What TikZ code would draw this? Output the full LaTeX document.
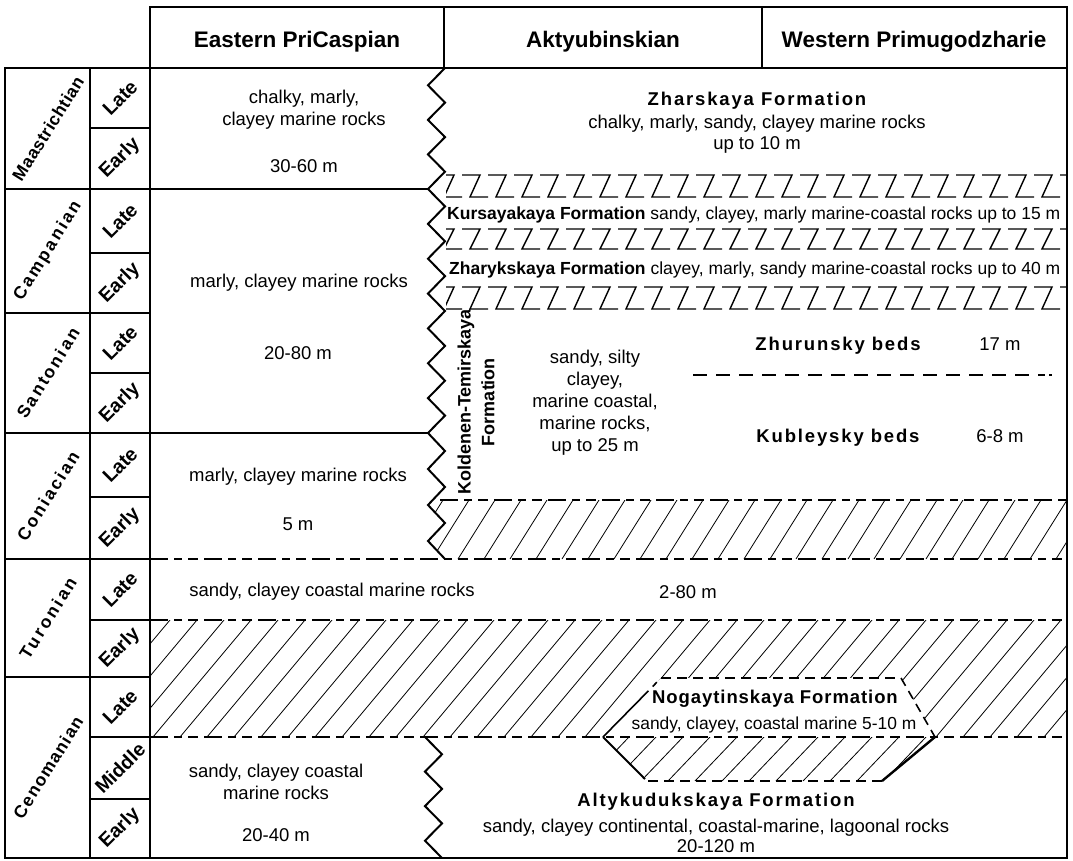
\documentclass[tikz,border=0pt]{standalone}
\usepackage{graphicx}
\usepackage{fontspec}
\setmainfont{Liberation Sans}
\newcommand\lsp[2]{{\addfontfeature{LetterSpace=#1}#2}}
\newcommand\stagelab[2]{\rotatebox{58}{\fontsize{17.5}{20}\selectfont\bfseries\lsp{#1}{#2}}}
\newcommand\sublab[1]{\rotatebox{45}{\fontsize{19.5}{22}\selectfont\bfseries #1}}
\begin{document}
\begin{tikzpicture}[x=1pt,y=-1pt,
  frame/.style={line width=2pt},
  dline/.style={line width=1.8pt, dash pattern=on 18pt off 6pt on 8pt off 6pt on 10pt off 6pt},
  zline/.style={line width=1.4pt},
  hatchline/.style={line width=0.8pt},
  zz/.style={line width=2pt, line join=miter, miter limit=10},
  txt/.style={font=\fontsize{18.5}{22}\selectfont, inner sep=0pt, anchor=base},
  btxt/.style={font=\fontsize{18.5}{22}\selectfont\bfseries, inner sep=0pt, anchor=base},
  hdr/.style={font=\fontsize{22.5}{26}\selectfont\bfseries, inner sep=0pt, anchor=base},
  lab/.style={inner sep=0pt},
  band/.style={font=\fontsize{17.5}{20}\selectfont, inner sep=0pt, anchor=base west},
  vlbl/.style={font=\fontsize{18}{20}\selectfont\bfseries, inner sep=0pt}
]
\useasboundingbox (0,0) rectangle (1073,860);
\fill[white] (0,0) rectangle (1073,860);

% ---------- hatched areas ----------
\begin{scope}
  \clip (432,500) -- (428,505) -- (445,523) -- (428,541) -- (445,559) -- (1067,559) -- (1067,500) -- cycle;
  \foreach \x in {380,406,...,1080} \draw[hatchline] (\x,559) -- (\x+37,500);
\end{scope}
\begin{scope}
  \clip (150,620) rectangle (1067,737);
  \foreach \x in {45,72,...,1100} \draw[hatchline] (\x,737) -- (\x+98,620);
\end{scope}
\fill[white] (661,678) -- (901,678) -- (935,737) -- (603,737) -- cycle;
\begin{scope}
  \clip (603,737) -- (645,781) -- (882,781) -- (935,737) -- cycle;
  \foreach \x in {560,587,...,960} \draw[hatchline] (\x,781) -- (\x+42,737);
\end{scope}

% ---------- Z-pattern bands ----------
\foreach \t/\b in {175/197, 229/249, 287/309} {
  \begin{scope}
    \clip (446,\t-2) rectangle (1066,\b+2);
    \foreach \x in {436,462,...,1070} \draw[zline] (\x,\t) -- (\x+18,\t) -- (\x+8,\b) -- (\x+26,\b);
  \end{scope}
}

% ---------- dashed boundaries ----------
\draw[dline] (440,500) -- (1067,500);
\draw[dline] (150,559) -- (1067,559);
\draw[dline] (150,620) -- (1067,620);
\draw[dline] (150,737) -- (1067,737);
\draw[line width=1.8pt, dash pattern=on 14pt off 9pt] (693,375) -- (1045,375);
\draw[line width=1.8pt] (1049,375) -- (1052,375);

% Nogaytinskaya outline
\draw[line width=1.6pt, dash pattern=on 10pt off 6pt] (661,678) -- (901,678);
\draw[line width=1.6pt, dash pattern=on 9pt off 6pt] (901,678) -- (935,737);
\draw[line width=1.6pt, dash pattern=on 0pt off 6pt on 6pt off 6pt on 80pt] (661,678) -- (603,737);
\draw[line width=1.8pt] (603,737) -- (645,779);
\draw[line width=1.6pt, dash pattern=on 10pt off 6pt] (648,781) -- (882,781);
\draw[line width=2.4pt] (882,781) -- (935,737);

% ---------- table frame ----------
\draw[frame] (150,68) -- (150,7) -- (1067,7) -- (1067,858) -- (5,858) -- (5,68) -- (1067,68);
\draw[frame] (444,7) -- (444,68);
\draw[frame] (762,7) -- (762,68);
\draw[frame] (90,68) -- (90,858);
\draw[frame] (150,68) -- (150,858);
\foreach \y in {189,313,433,559,677} \draw[frame] (5,\y) -- (150,\y);
\foreach \y in {128,253,373,497,620,737,799} \draw[frame] (90,\y) -- (150,\y);
\draw[frame] (150,189) -- (428,189);
\draw[frame] (150,433) -- (428,433);

% ---------- zigzag boundaries ----------
\draw[zz] (445,68) -- (428,85.3) -- (445,102.6) -- (428,119.9) -- (445,137.1) -- (428,154.4) -- (445,171.7) -- (428,189)
  -- (445,206.4) -- (428,223.9) -- (445,241.3) -- (428,258.7) -- (445,276.1) -- (428,293.6) -- (445,311) -- (428,328.4)
  -- (445,345.9) -- (428,363.3) -- (445,380.7) -- (428,398.1) -- (445,415.6) -- (428,433)
  -- (445,451) -- (428,469) -- (445,487) -- (428,505) -- (445,523) -- (428,541) -- (445,559);
\draw[zz] (425,737) -- (442,754.3) -- (425,771.6) -- (442,788.9) -- (425,806.1) -- (442,823.4) -- (425,840.7) -- (442,858);

% ---------- headers ----------
\node[hdr] (hE) at (297,47.5) {Eastern PriCaspian};
\node[hdr] (hA) at (603,47.5) {Aktyubinskian};
\node[hdr] (hW) at (914,47.5) {Western Primugodzharie};

% ---------- stages ----------
\node[lab] (sMa) at (48,128.5) {\stagelab{3}{Maastrichtian}};
\node[lab] (sCa) at (48,251) {\stagelab{13}{Campanian}};
\node[lab] (sSa) at (48,373) {\stagelab{13}{Santonian}};
\node[lab] (sCo) at (48,496) {\stagelab{13}{Coniacian}};
\node[lab] (sTu) at (48,618) {\stagelab{15}{Turonian}};
\node[lab] (sCe) at (48,767.5) {\stagelab{7}{Cenomanian}};

% ---------- substages ----------
\node[lab] (u1) at (120,98) {\sublab{Late}};
\node[lab] (u2) at (120,158.5) {\sublab{Early}};
\node[lab] (u3) at (120,221) {\sublab{Late}};
\node[lab] (u4) at (120,283) {\sublab{Early}};
\node[lab] (u5) at (120,343) {\sublab{Late}};
\node[lab] (u6) at (120,403) {\sublab{Early}};
\node[lab] (u7) at (120,465) {\sublab{Late}};
\node[lab] (u8) at (120,528) {\sublab{Early}};
\node[lab] (u9) at (120,589.5) {\sublab{Late}};
\node[lab] (u10) at (120,648.5) {\sublab{Early}};
\node[lab] (u11) at (120,707) {\sublab{Late}};
\node[lab] (u12) at (120,768) {\sublab{Middle}};
\node[lab] (u13) at (120,828.5) {\sublab{Early}};

% ---------- Eastern PriCaspian ----------
\node[txt] (e1) at (304,103) {chalky, marly,};
\node[txt] (e2) at (304,125) {clayey marine rocks};
\node[txt] (e3) at (304,172) {30-60 m};
\node[txt] (e4) at (299,287) {marly, clayey marine rocks};
\node[txt] (e5) at (298,359) {20-80 m};
\node[txt] (e6) at (298,481) {marly, clayey marine rocks};
\node[txt] (e7) at (298,530) {5 m};
\node[txt] (t1) at (332,596) {sandy, clayey coastal marine rocks};
\node[txt] (t2) at (688,598) {2-80 m};
\node[txt] (e8) at (276,777) {sandy, clayey coastal};
\node[txt] (e9) at (276,799) {marine rocks};
\node[txt] (e10) at (276,841) {20-40 m};

% ---------- Aktyubinskian / Western ----------
\node[btxt] (z1) at (757,105) {\lsp{10}{Zharskaya Formation}};
\node[txt] (z2) at (757,128) {chalky, marly, sandy, clayey marine rocks};
\node[txt] (z3) at (757,149) {up to 10 m};
\node[band] (k1) at (447,219) {\textbf{Kursayakaya Formation} sandy, clayey, marly marine-coastal rocks up to 15 m};
\node[band] (k2) at (449,274) {\textbf{Zharykskaya Formation} clayey, marly, sandy marine-coastal rocks up to 40 m};
\node[vlbl] (kt1) at (466,402) {\rotatebox{90}{Koldenen-Temirskaya}};
\node[vlbl] (kt2) at (488,402) {\rotatebox{90}{Formation}};
\node[txt] (a1) at (595,363) {sandy, silty};
\node[txt] (a2) at (595,385) {clayey,};
\node[txt] (a3) at (595,407) {marine coastal,};
\node[txt] (a4) at (595,429) {marine rocks,};
\node[txt] (a5) at (595,451) {up to 25 m};
\node[btxt] (w1) at (838,350) {\lsp{10}{Zhurunsky beds}};
\node[txt] (w2) at (1000,350) {17 m};
\node[btxt] (w3) at (838,442) {\lsp{10}{Kubleysky beds}};
\node[txt] (w4) at (1000,442) {6-8 m};
\node[btxt] (n1) at (775,703) {\lsp{5}{Nogaytinskaya Formation}};
\node[txt, font=\fontsize{17.4}{20}\selectfont] (n2) at (774,729) {sandy, clayey, coastal marine 5-10 m};
\node[btxt] (al1) at (716,806) {\lsp{10}{Altykudukskaya Formation}};
\node[txt] (al2) at (716,832) {sandy, clayey continental, coastal-marine, lagoonal rocks};
\node[txt] (al3) at (716,852) {20-120 m};
\end{tikzpicture}
\end{document}
